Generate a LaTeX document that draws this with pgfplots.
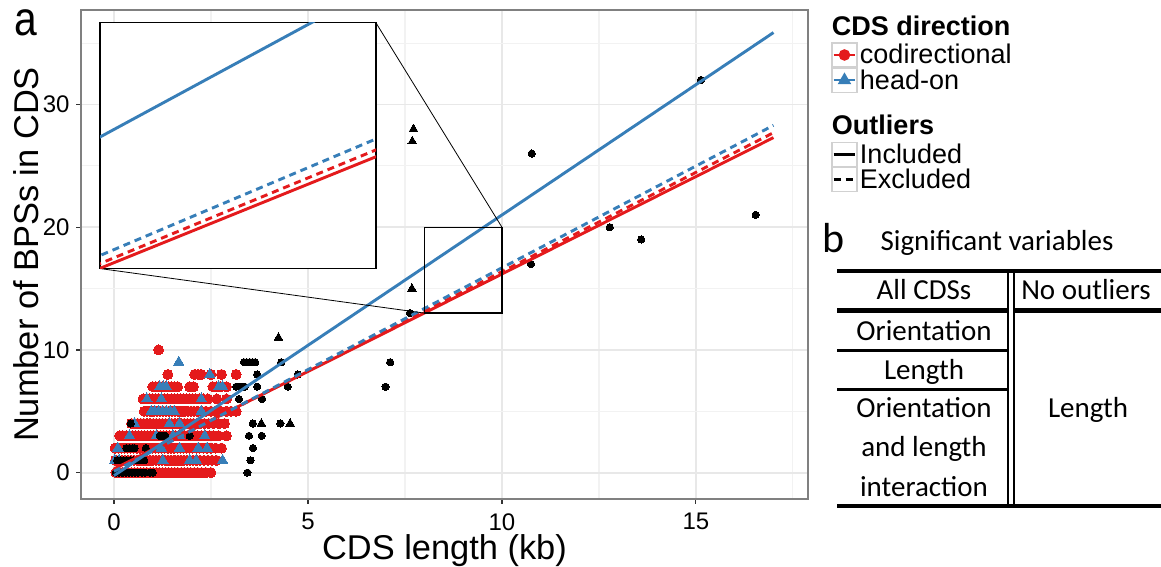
\documentclass[border=0pt]{standalone}
\usepackage{pgfplots}
\pgfplotsset{compat=1.18}
\usepackage{fontspec}
\setmainfont{Liberation Sans}
\newfontfamily\calfont{Carlito}
\definecolor{cred}{HTML}{E41A1C}
\definecolor{cblue}{HTML}{377EB8}
\pgfplotsset{
  keybox/.style={legend image code/.code={
    \draw[draw=black!18, fill=white, line width=0.6pt, solid] (0pt,-6pt) rectangle (12.5pt,6pt);
    \draw[mark repeat=2, mark phase=2] plot coordinates {(0.8pt,0pt) (6.25pt,0pt) (11.7pt,0pt)};
  }},
  redpts/.style={only marks, color=cred, mark=*, mark size=2.5pt, mark options={line width=0pt, draw=cred, fill=cred}},
  bluepts/.style={only marks, color=cblue, mark=triangle*, mark size=3pt, mark options={line width=0pt, draw=cblue, fill=cblue}},
  blkpts/.style={only marks, color=black, mark=*, mark size=1.8pt, mark options={line width=0pt, draw=black, fill=black}},
  blktri/.style={only marks, color=black, mark=triangle*, mark size=2.5pt, mark options={line width=0pt, draw=black, fill=black}},
  fitline/.style={no markers, line width=1.45pt},
  dashfit/.style={no markers, line width=1.45pt, dash pattern=on 3.5pt off 2.5pt},
}
\begin{document}
\begin{tikzpicture}
\useasboundingbox (0,0) rectangle (580.5pt,283.5pt);
\begin{axis}[
  name=main,
  at={(40.5pt,34pt)}, anchor=south west,
  scale only axis, width=363.5pt, height=244.5pt,
  xmin=-0.85, xmax=17.89, ymin=-2.15, ymax=37.7,
  clip marker paths=true,
  xtick={0,5,10,15}, ytick={0,10,20,30},
  minor xtick={2.5,7.5,12.5,17.5}, minor ytick={5,15,25,35},
  grid=both,
  major grid style={color=black!9, line width=0.9pt},
  minor grid style={color=black!5, line width=0.6pt},
  axis line style={color=black!50, line width=0.7pt},
  tick align=outside, tick pos=left,
  major tick length=2.5pt, minor tick length=0pt,
  tick style={color=black!80, line width=0.6pt},
  ticklabel style={font=\fontsize{12}{12}\selectfont, inner sep=0pt},
  yticklabel style={xshift=-3pt},
  xticklabel style={yshift=-4.5pt},
  /pgf/number format/assume math mode=true,
  xlabel={CDS length (kb)}, ylabel={Number of BPSs in CDS},
  xlabel style={at={(axis description cs:0.5,-0.1235)}, anchor=base, inner sep=0pt, font=\fontsize{17.2}{17.2}\selectfont},
  ylabel style={at={(axis description cs:-0.0591,0.5)}, anchor=base, inner sep=0pt, font=\fontsize{17.2}{17.2}\selectfont},
  legend cell align=left,
  legend style={at={(1.0316,0.9959)}, anchor=north west, draw=none, fill=none, inner sep=0pt,
    row sep=0pt, column sep=1.2pt, font=\fontsize{13.5}{13.5}\selectfont,
    nodes={inner sep=0pt, text height=10.5pt, text depth=1.5pt}},
]
% codirectional (red circles)
\addplot[redpts, forget plot] coordinates {
(0.05,0) (0.13,0) (0.21,0) (0.29,0) (0.37,0) (0.45,0) (0.53,0) (0.61,0) (0.69,0) (0.77,0) (0.85,0) (0.93,0) (1.01,0) (1.09,0) (1.17,0) (1.25,0) (1.33,0) (1.41,0) (1.49,0) (1.57,0) (1.65,0) (1.73,0) (1.81,0) (1.9,0) (1.98,0) (2.07,0) (2.16,0) (2.26,0) (2.37,0) (2.5,0)
(0.04,1) (0.12,1) (0.2,1) (0.28,1) (0.36,1) (0.44,1) (0.52,1) (0.6,1) (0.68,1) (0.76,1) (0.84,1) (0.92,1) (1.0,1) (1.08,1) (1.16,1) (1.24,1) (1.32,1) (1.4,1) (1.48,1) (1.56,1) (1.64,1) (1.72,1) (1.8,1) (1.88,1) (1.96,1) (2.04,1) (2.13,1) (2.22,1) (2.32,1) (2.42,1) (2.53,1) (2.64,1)
(0.03,2) (0.11,2) (0.19,2) (0.27,2) (0.35,2) (0.43,2) (0.51,2) (0.59,2) (0.67,2) (0.75,2) (0.83,2) (0.91,2) (0.99,2) (1.07,2) (1.15,2) (1.23,2) (1.31,2) (1.39,2) (1.47,2) (1.55,2) (1.63,2) (1.71,2) (1.79,2) (1.87,2) (1.95,2) (2.03,2) (2.12,2) (2.21,2) (2.3,2) (2.4,2) (2.5,2) (2.62,2) (2.77,2)
(0.15,3) (0.23,3) (0.31,3) (0.39,3) (0.47,3) (0.55,3) (0.63,3) (0.71,3) (0.79,3) (0.87,3) (0.95,3) (1.03,3) (1.11,3) (1.19,3) (1.27,3) (1.35,3) (1.43,3) (1.51,3) (1.59,3) (1.67,3) (1.75,3) (1.83,3) (1.91,3) (1.99,3) (2.07,3) (2.16,3) (2.25,3) (2.35,3) (2.45,3) (2.56,3) (2.7,3) (2.9,3)
(0.45,4) (0.53,4) (0.61,4) (0.69,4) (0.77,4) (0.85,4) (0.93,4) (1.01,4) (1.09,4) (1.17,4) (1.25,4) (1.33,4) (1.41,4) (1.49,4) (1.57,4) (1.65,4) (1.73,4) (1.81,4) (1.89,4) (1.97,4) (2.05,4) (2.14,4) (2.23,4) (2.33,4) (2.44,4) (2.56,4) (2.7,4) (2.85,4)
(0.78,5) (0.86,5) (0.94,5) (1.02,5) (1.1,5) (1.18,5) (1.26,5) (1.34,5) (1.42,5) (1.5,5) (1.58,5) (1.66,5) (1.74,5) (1.82,5) (1.9,5) (1.98,5) (2.06,5) (2.15,5) (2.25,5) (2.37,5) (2.5,5) (2.62,5) (2.75,5) (2.9,5) (3.02,5) (3.15,5)
(0.75,6) (0.83,6) (0.91,6) (0.99,6) (1.07,6) (1.15,6) (1.23,6) (1.31,6) (1.39,6) (1.47,6) (1.55,6) (1.63,6) (1.71,6) (1.79,6) (1.87,6) (1.95,6) (2.03,6) (2.11,6) (2.2,6) (2.3,6) (2.42,6) (2.65,6) (2.9,6)
(1.0,7) (1.08,7) (1.16,7) (1.24,7) (1.32,7) (1.4,7) (1.48,7) (1.56,7) (1.64,7) (1.95,7) (2.05,7) (2.55,7) (2.65,7) (2.75,7) (2.9,7)
(1.39,8) (2.08,8) (2.17,8) (2.25,8) (2.5,8) (2.77,8) (3.15,8)
(1.15,10)
};
% head-on (blue triangles)
\addplot[bluepts, forget plot] coordinates {
(0.02,1) (0.13,1) (1.26,1) (1.95,1) (2.12,1) (2.8,1)
(0.1,2) (1.22,2) (1.69,2) (2.17,2) (2.4,2)
(0.4,3) (1.09,3) (1.52,3) (1.69,3) (2.34,3)
(0.53,4) (1.43,4) (1.69,4)
(0.96,5) (1.05,5) (1.15,5) (1.25,5) (1.35,5) (1.45,5) (1.55,5) (2.25,5)
(0.85,6) (1.22,6) (2.25,6)
(1.18,7) (1.27,7) (1.35,7) (2.7,7) (2.8,7)
(2.47,8)
(1.67,9)
};
% outliers (black circles)
\addplot[blkpts, forget plot] coordinates {
(0.05,0) (0.13,0) (0.22,0) (0.3,0) (0.38,0) (0.46,0) (0.55,0) (0.63,0) (0.72,0) (0.8,0) (0.92,0) (1.0,0) (3.44,0)
(0.08,1) (0.16,1) (0.25,1) (0.33,1) (0.42,1) (0.5,1) (0.6,1) (0.68,1) (0.78,1) (3.52,1)
(0.32,2) (0.4,2) (0.48,2) (0.53,2) (0.82,2) (3.58,2)
(1.18,3) (1.25,3) (1.32,3) (1.95,3) (3.48,3) (3.81,3)
(0.43,4) (3.58,4) (4.29,4)
(3.22,6) (3.82,6)
(3.15,7) (3.22,7) (3.3,7) (3.37,7) (3.69,7) (4.48,7) (7.0,7)
(3.69,8) (4.74,8)
(3.35,9) (3.42,9) (3.5,9) (3.57,9) (3.64,9) (4.31,9) (7.12,9)
(7.63,13) (10.75,17) (13.59,19) (12.78,20) (16.54,21) (10.77,26) (15.13,32)
};
% outliers (black triangles)
\addplot[blktri, forget plot] coordinates {
(3.8,4) (4.54,4) (4.24,11) (7.68,15) (7.69,27) (7.72,28)
};
% regression lines
\addplot[fitline, cred, forget plot] coordinates {(0,0.3) (17,27.3)};
\addplot[dashfit, cred, forget plot] coordinates {(0,0.2) (17,27.7)};
\addplot[dashfit, cblue, forget plot] coordinates {(0,0.1) (17,28.3)};
\addplot[fitline, cblue, forget plot] coordinates {(0,-0.25) (17,35.86)};
% zoom box and connectors
\draw[black, line width=0.6pt] (axis cs:8,13) rectangle (axis cs:10,20);
\draw[black, line width=0.4pt] (axis cs:6.75,36.67) -- (axis cs:10,20);
\draw[black, line width=0.4pt] (axis cs:-0.36,16.63) -- (axis cs:8,13);
\coordinate (insSW) at (axis cs:-0.36,16.63);
% legend
\addlegendimage{empty legend}
\addlegendentry[text height=11.5pt, text depth=3.5pt]{\hspace*{-14pt}\textbf{CDS direction}}
\addlegendimage{keybox, cred, line width=1.3pt, mark=*, mark size=2.2pt, mark options={draw=none, fill=cred}}
\addlegendentry{codirectional}
\addlegendimage{keybox, cblue, line width=1.3pt, mark=triangle*, mark size=2.6pt, mark options={draw=none, fill=cblue}}
\addlegendentry{head-on}
\addlegendimage{empty legend}
\addlegendentry[text height=9.5pt, text depth=0pt]{\phantom{x}}
\addlegendimage{empty legend}
\addlegendentry[text height=11.5pt, text depth=3.5pt]{\hspace*{-14pt}\textbf{Outliers}}
\addlegendimage{keybox, black, line width=1.3pt}
\addlegendentry{Included}
\addlegendimage{keybox, black, line width=1.3pt, dash pattern=on 3.5pt off 2.5pt}
\addlegendentry{Excluded}
\end{axis}
% inset
\begin{axis}[
  at={(insSW)}, anchor=south west,
  scale only axis, width=138pt, height=123pt,
  xmin=8, xmax=10, ymin=13, ymax=20,
  ticks=none,
  axis line style={black, line width=0.8pt},
  axis background/.style={fill=white},
]
\addplot[fitline, cred] coordinates {(0,0.3) (17,27.3)};
\addplot[dashfit, cred] coordinates {(0,0.2) (17,27.7)};
\addplot[dashfit, cblue] coordinates {(0,0.1) (17,28.3)};
\addplot[fitline, cblue] coordinates {(0,-0.25) (17,35.86)};
\end{axis}
% panel labels and table b
\begin{scope}[x=0.5pt, y=-0.5pt, shift={(0pt,283.5pt)}]
\node[anchor=base west, inner sep=0pt, font=\fontsize{24}{24}\selectfont, xscale=0.85] at (14,36) {a};
\node[anchor=base west, inner sep=0pt, font=\calfont\fontsize{21}{21}\selectfont] at (822,253) {b};
\begin{scope}[every node/.style={anchor=base, inner sep=0pt, font=\calfont\fontsize{14.5}{14.5}\selectfont}]
\node at (997,251) {Significant variables};
\node at (924,300) {All CDSs};
\node at (1086,300) {No outliers};
\node at (924,341) {Orientation};
\node at (924,380) {Length};
\node at (924,418) {Orientation};
\node at (924,457) {and length};
\node at (924,497) {interaction};
\node at (1088,418) {Length};
\end{scope}
\draw[line width=1.7pt] (837,271) -- (1161,271);
\draw[line width=2.5pt] (837,311) -- (1008,311);
\draw[line width=2.5pt] (1014,311) -- (1161,311);
\draw[line width=1.3pt] (837,350.7) -- (1008,350.7);
\draw[line width=1.3pt] (837,389.3) -- (1008,389.3);
\draw[line width=1.7pt] (837,506) -- (1161,506);
\draw[line width=1pt] (1008.3,271) -- (1008.3,506);
\draw[line width=1pt] (1014.3,271) -- (1014.3,506);
\end{scope}
\end{tikzpicture}
\end{document}
